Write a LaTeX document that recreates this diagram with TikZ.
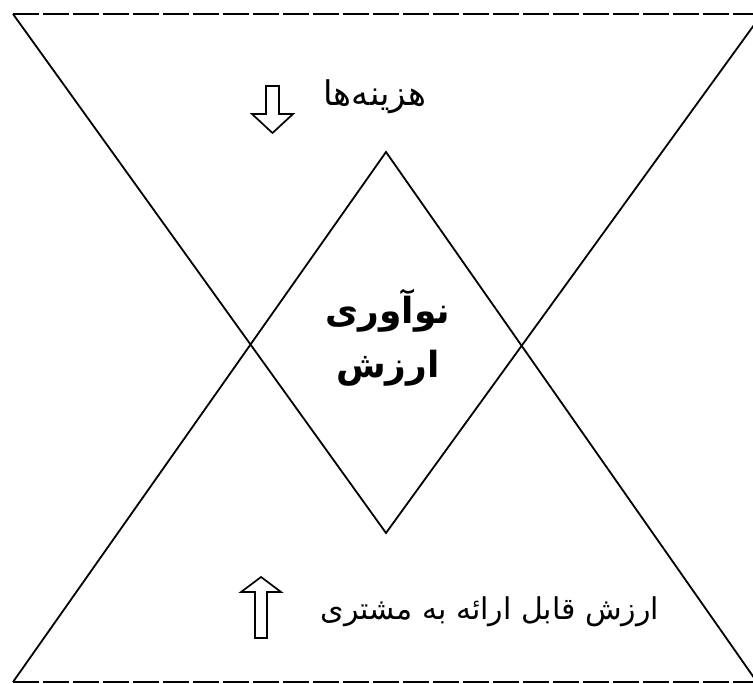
\documentclass[tikz,border=0pt]{standalone}
\usepackage{fontspec}
\newfontfamily\arabicfont[Script=Arabic]{DejaVu Sans}
\TeXXeTstate=1
\begin{document}
\begin{tikzpicture}[x=1pt,y=-1pt,line join=miter]
\tikzset{
  edge/.style={line width=1.8pt},
  baseline/.style={line width=2.4pt,dash pattern=on 26pt off 4pt},
  blockarrow/.style={line width=1.7pt,fill=white},
  label/.style={font=\arabicfont\fontsize{30}{34}\selectfont,inner sep=0pt},
  core/.style={font=\arabicfont\bfseries\fontsize{36}{54}\selectfont,inner sep=0pt,align=center}
}
\useasboundingbox (0,0) rectangle (753,684);
\clip (0,0) rectangle (753,684);
\coordinate (TL) at (13,14);
\coordinate (TR) at (762,14);
\coordinate (BA) at (386,533);
\coordinate (BL) at (13,682);
\coordinate (BR) at (757,682);
\coordinate (TA) at (386,152);
\draw[edge] (TL) -- (BA) -- (TR);
\draw[baseline] (TL) -- (TR);
\draw[edge] (BL) -- (TA) -- (BR);
\draw[baseline] (BL) -- (BR);
% block arrows
\draw[blockarrow] (266,86) -- (279,86) -- (279,114) -- (293,114) -- (272.5,133) -- (252,114) -- (266,114) -- cycle;
\draw[blockarrow] (255,638) -- (267,638) -- (267,592) -- (281,592) -- (261,577) -- (241,592) -- (255,592) -- cycle;
% texts
\node[label,font=\arabicfont\fontsize{34}{38}\selectfont] (cost) at (375,97) {\beginR هزینه‌ها\endR};
\node[label] (value) at (490,612) {\beginR ارزش قابل ارائه به مشتری\endR};
\node[core] (innov) at (388,338) {\beginR نوآوری\endR\\\beginR ارزش\endR};
\end{tikzpicture}
\end{document}
